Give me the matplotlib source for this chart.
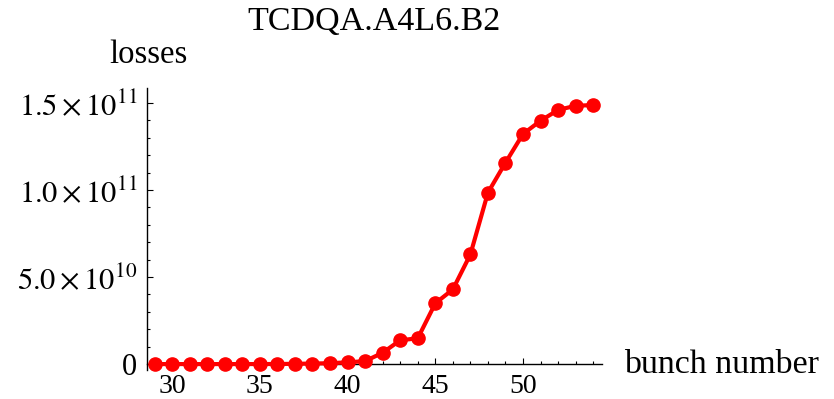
import numpy as np
import matplotlib
matplotlib.use("Agg")
import matplotlib.pyplot as plt
from matplotlib.ticker import MultipleLocator, FuncFormatter

plt.rcParams['font.family'] = ['Liberation Serif', 'DejaVu Serif']
plt.rcParams['mathtext.fontset'] = 'stix'

# losses per bunch at the collimator
bunches = list(range(29, 55))
losses = [0, 0, 0, 0, 0, 0, 1e7, 5e7, 1.5e8, 3e8, 5e8,
          1.0e9, 1.7e9, 6.5e9, 1.37e10, 1.48e10, 3.49e10, 4.29e10, 6.30e10,
          9.85e10, 1.157e11, 1.322e11, 1.398e11, 1.46e11, 1.484e11, 1.488e11]

ylabels = {0: "0", 5e10: r"$5.0\times10^{10}$", 1e11: r"$1.0\times10^{11}$",
           1.5e11: r"$1.5\times10^{11}$"}

W, H = 834, 399
fig = plt.figure(figsize=(W / 100, H / 100), dpi=100)
ax = fig.add_axes([147 / W, (H - 370) / H, (602 - 147) / W, (370 - 88) / H])

ax.plot(bunches, losses, color='#ff0000', lw=3, marker='o', ms=9.5,
        clip_on=False, zorder=3)

ax.set_xlim(28.57, 54.5)
ax.set_ylim(-3.4e9, 1.586e11)

for s in ['top', 'right']:
    ax.spines[s].set_visible(False)
ax.spines['bottom'].set_position(('data', 0))
ax.spines['left'].set_linewidth(1)
ax.spines['bottom'].set_linewidth(1)

ax.xaxis.set_major_locator(MultipleLocator(5))
ax.xaxis.set_minor_locator(MultipleLocator(1))
ax.yaxis.set_major_locator(MultipleLocator(5e10))
ax.yaxis.set_minor_locator(MultipleLocator(1e10))
ax.yaxis.set_major_formatter(FuncFormatter(lambda v, p: ylabels.get(round(v / 1e9) * 1e9, "")))

ax.tick_params(which='both', direction='in', width=0.8)
ax.tick_params(which='major', length=4.5)
ax.tick_params(which='minor', length=2.5)
ax.tick_params(axis='x', pad=7, labelsize=20)
ax.tick_params(axis='y', pad=7, labelsize=22)

fig.text(374 / W, 1 - 22 / H, "TCDQA.A4L6.B2", ha='center', va='center', fontsize=24.5)
fig.text(148 / W, 1 - 55 / H, "losses", ha='center', va='center', fontsize=23.5)
fig.text(624 / W, 1 - 365 / H, "bunch number", ha='left', va='center', fontsize=24.5)

fig.savefig("out.png", dpi=100)
